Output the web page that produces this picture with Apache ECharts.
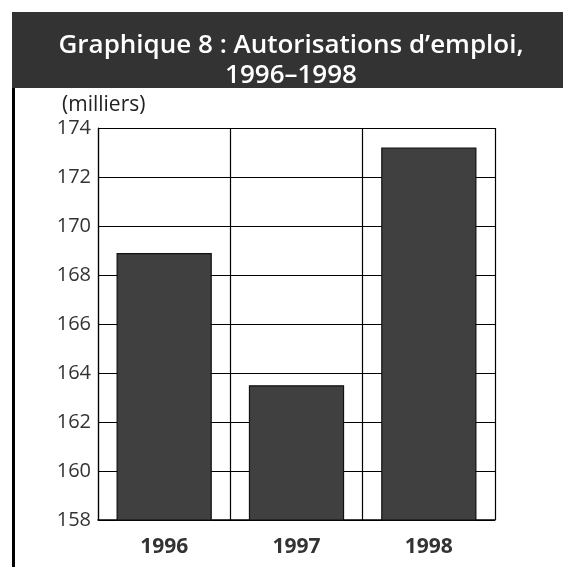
<!DOCTYPE html>
<html>
<head>
<meta charset="utf-8">
<script src="https://cdn.jsdelivr.net/npm/echarts@6/dist/echarts.min.js"></script>
<style>
  html, body { margin: 0; padding: 0; background: #fff; }
  #chart { width: 563px; height: 567px; }
</style>
</head>
<body>
<div id="chart"></div>
<script>
// Employment authorizations, thousands
const years = ['1996', '1997', '1998'];
const authorizations = [168.9, 163.5, 173.2];
const yMin = 158, yMax = 174, yStep = 2;

const titleLines = ['Graphique 8 : Autorisations d\u2019emploi,', '1996\u20131998'];
const unitLabel = '(milliers)';

const font = '"Open Sans", "Noto Sans", sans-serif';

const chart = echarts.init(document.getElementById('chart'), null, { renderer: 'canvas' });

chart.setOption({
  backgroundColor: '#ffffff',
  animation: false,
  grid: { left: 98, right: 68, top: 128, bottom: 47, containLabel: false },
  graphic: [
    // dark banner behind the heading
    { type: 'rect', left: 12, top: 12, shape: { width: 551, height: 76 }, style: { fill: '#333333' }, z: 0 },
    // black rule down the left side
    { type: 'rect', left: 12, top: 88, shape: { width: 3, height: 479 }, style: { fill: '#000000' }, z: 0 },
    {
      type: 'text', x: 291, y: 31, z: 2,
      style: {
        text: titleLines.join('\n'), fill: '#ffffff', font: '600 26px ' + font,
        align: 'center', verticalAlign: 'top', lineHeight: 30
      }
    },
    { type: 'text', left: 62, top: 95, style: { text: unitLabel, fill: '#222', font: '21px ' + font } }
  ],
  xAxis: {
    type: 'category',
    data: years,
    axisLine: { show: true, lineStyle: { color: '#000', width: 1.5 } },
    axisTick: { show: false },
    axisLabel: { color: '#333', fontFamily: font, fontSize: 21, fontWeight: 'bold', margin: 17 },
    splitLine: { show: true, lineStyle: { color: '#000', width: 1.2 } }
  },
  yAxis: {
    type: 'value',
    min: yMin, max: yMax, interval: yStep,
    axisLine: { show: true, lineStyle: { color: '#000', width: 1.2 } },
    axisTick: { show: false },
    axisLabel: { color: '#333', fontFamily: font, fontSize: 20, margin: 7 },
    splitLine: { show: true, lineStyle: { color: '#000', width: 1.2 } }
  },
  series: [{
    type: 'bar',
    data: authorizations,
    barWidth: '72%',
    itemStyle: { color: '#404040', borderColor: '#111', borderWidth: 1.2 },
    z: 3
  }]
});
</script>
</body>
</html>
